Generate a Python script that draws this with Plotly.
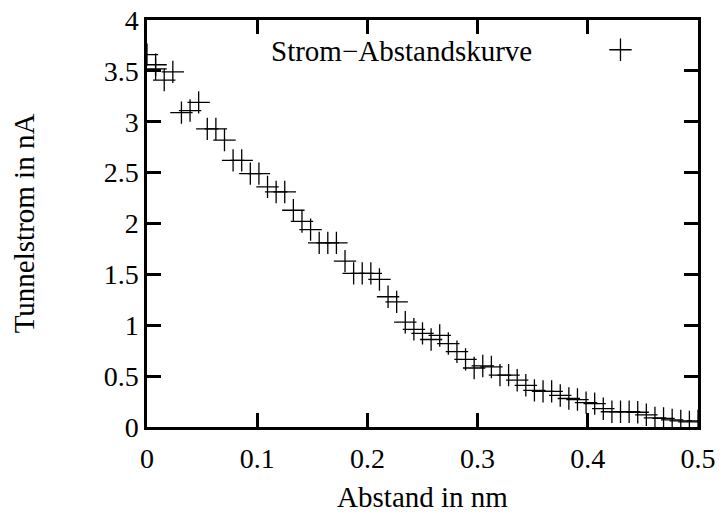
import plotly.graph_objects as go

# Data
abstand_nm = [i / 128 for i in range(65)]
strom_nA = [3.66, 3.56, 3.41, 3.49, 3.09, 3.11, 3.19, 2.93, 2.93, 2.82,
            2.62, 2.62, 2.49, 2.49, 2.36, 2.31, 2.31, 2.13, 2.02, 1.94,
            1.81, 1.81, 1.81, 1.63, 1.51, 1.51, 1.51, 1.45, 1.28, 1.23,
            1.03, 0.96, 0.92, 0.86, 0.90, 0.82, 0.74, 0.665, 0.58, 0.60,
            0.59, 0.51, 0.51, 0.46, 0.41, 0.36, 0.35, 0.35, 0.31, 0.28,
            0.27, 0.24, 0.23, 0.18, 0.15, 0.15, 0.15, 0.145, 0.12, 0.09,
            0.085, 0.07, 0.06, 0.05, 0.06]
# extra overlapping measurement near the start
extra_x = [1 / 128]
extra_y = [3.52]

x_all = abstand_nm[:1] + extra_x + abstand_nm[1:]
y_all = strom_nA[:1] + extra_y + strom_nA[1:]

x_ticks = [0, 0.1, 0.2, 0.3, 0.4, 0.5]
x_ticklabels = ["0", "0.1", "0.2", "0.3", "0.4", "0.5"]
y_ticks = [0, 0.5, 1, 1.5, 2, 2.5, 3, 3.5, 4]
y_ticklabels = ["0", "0.5", "1", "1.5", "2", "2.5", "3", "3.5", "4"]

legend_label = "Strom\u2212Abstandskurve"

FONT = "Liberation Serif"

fig = go.Figure()
fig.add_trace(go.Scatter(
    x=x_all, y=y_all, mode="markers", name=" ",
    marker=dict(symbol="cross-thin", size=16, color="black",
                line=dict(color="black", width=1.3)),
    showlegend=True,
))

axis_common = dict(
    showline=True, linecolor="black", linewidth=2.5, mirror="ticks",
    ticks="inside", ticklen=14, tickwidth=2.5, tickcolor="black",
    showgrid=False, zeroline=False, ticklabeloverflow="allow",
    automargin=False,
    tickfont=dict(family=FONT, size=28, color="black"),
)

fig.update_layout(
    width=715, height=507,
    margin=dict(l=138.5, r=25, t=12, b=88),
    plot_bgcolor="white", paper_bgcolor="white",
    font=dict(family=FONT, size=22, color="black"),
    xaxis=dict(range=[0, 0.5], tickvals=x_ticks, ticktext=x_ticklabels,
               ticklabelstandoff=5,
               title=dict(text="Abstand in nm", font=dict(family=FONT, size=29), standoff=14),
               **axis_common),
    yaxis=dict(range=[0, 4], tickvals=y_ticks, ticktext=y_ticklabels,
               title=dict(text="Tunnelstrom in nA", font=dict(family=FONT, size=29), standoff=63),
               **axis_common),
    legend=dict(x=0.823, y=0.978, xanchor="left", yanchor="top",
                bgcolor="rgba(0,0,0,0)", borderwidth=0,
                font=dict(family=FONT, size=22)),
    annotations=[dict(text=legend_label, xref="paper", yref="paper",
                      x=0.702, y=0.925, xanchor="right", yanchor="middle",
                      showarrow=False, font=dict(family=FONT, size=29, color="black"))],
)

fig.write_html("out.html")
